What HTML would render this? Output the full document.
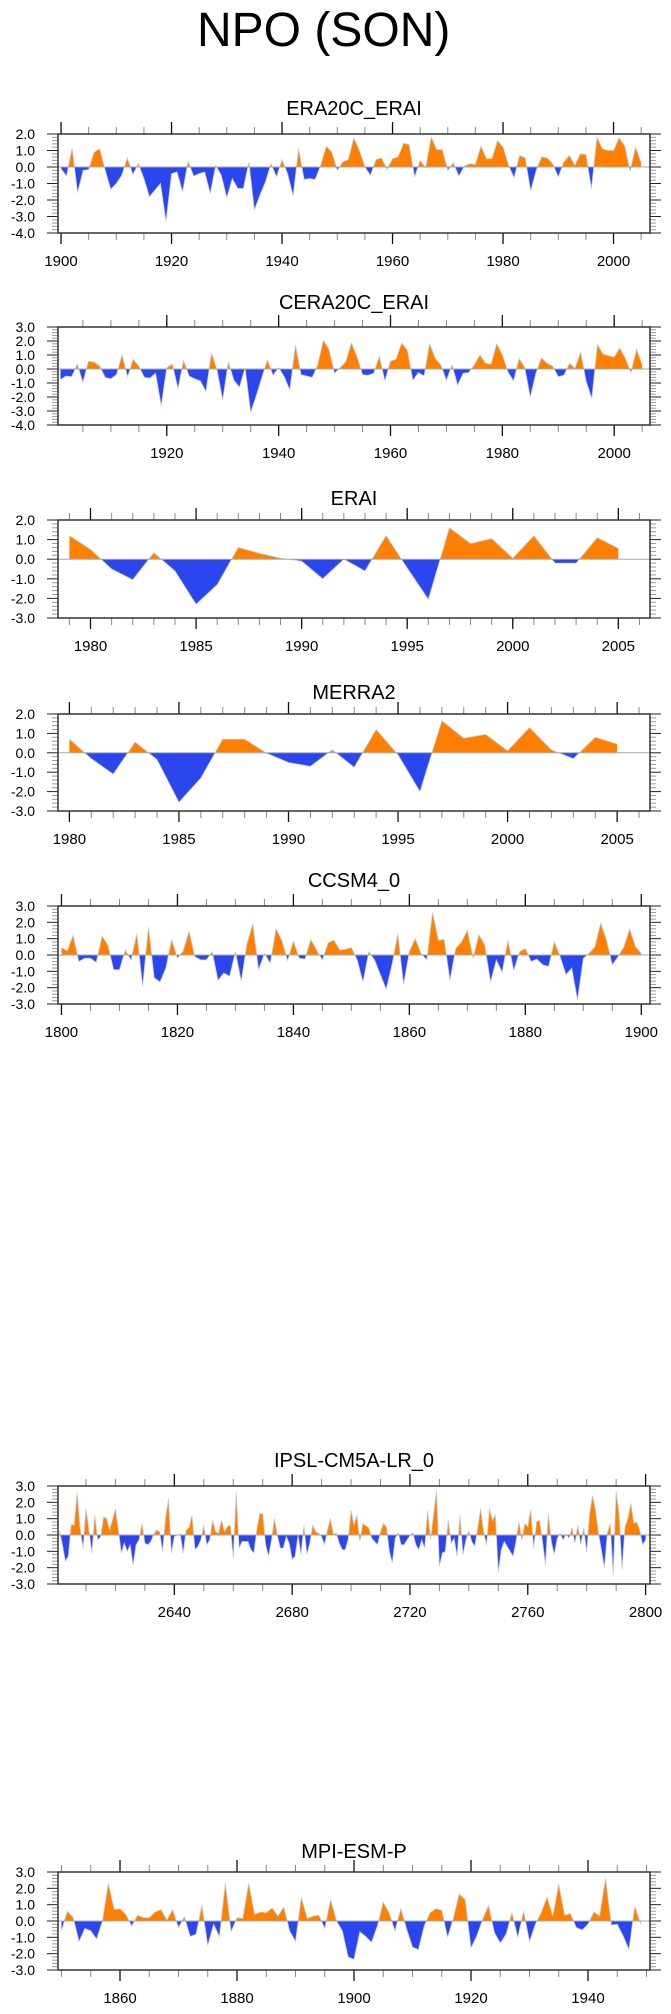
<!DOCTYPE html>
<html><head><meta charset="utf-8"><title>NPO (SON)</title>
<style>
html,body{margin:0;padding:0;background:#fff;}
svg{display:block;font-family:"Liberation Sans",Arial,sans-serif;}
</style></head>
<body>
<svg id="fig" width="671" height="2014" viewBox="0 0 671 2014" xmlns="http://www.w3.org/2000/svg">
<text x="197" y="46" font-size="48" fill="#000">NPO (SON)</text>
</svg>
<script>
// ---- data arrays (values per year) ----
const era20cStart = 1900;
const era20cValues = [-0.1,-0.55,1.15,-1.55,-0.2,-0.15,0.9,1.1,-0.2,-1.35,
-1.0,-0.5,0.55,-0.45,0.2,-0.7,-1.8,-1.4,-1.0,-3.3,
-0.4,-0.3,-1.5,0.35,-0.55,-0.4,-0.3,-1.6,0.1,-0.5,
-1.85,-0.7,-1.3,-1.3,0.3,-2.6,-1.7,-0.9,0.2,-0.6,
0.45,-0.4,-1.75,1.1,-0.75,-0.7,-0.75,0.1,1.25,0.9,
-0.2,0.3,0.45,1.75,1.0,0.0,-0.5,0.45,0.55,-0.15,
0.5,0.6,1.45,1.35,-0.6,0.4,-0.05,1.8,1.05,1.05,
-0.2,0.25,-0.55,0.05,0.2,0.15,1.25,0.5,0.5,1.6,
1.2,0.1,-0.65,0.7,0.55,-1.45,-0.2,0.6,0.55,0.2,
-0.6,0.3,0.7,0.1,0.8,0.75,-1.3,1.8,1.1,1.0,
1.0,1.75,1.3,-0.25,1.2,0.25];
const cera20cStart = 1901;
const cera20cValues = [-0.75,-0.5,-0.55,0.35,-0.95,0.55,0.5,0.2,-0.6,-0.7,
-0.4,1.0,-0.55,0.7,0.2,-0.6,-0.65,-0.3,-2.6,0.1,
0.35,-1.4,0.6,-0.5,-0.7,-0.85,-1.6,1.15,-0.1,-2.2,
0.5,-0.8,-1.3,0.1,-3.1,-1.9,-0.6,0.65,-0.45,0.1,
-0.55,-1.5,1.7,-0.4,-0.5,-0.6,0.3,2.05,1.4,-0.3,
0.1,0.5,1.85,0.9,-0.4,-0.45,-0.3,0.9,-0.85,0.55,
0.7,1.85,1.35,-0.8,-0.25,-0.5,1.8,0.75,0.3,-0.8,
0.3,-1.15,-0.3,-0.25,0.3,1.0,0.4,0.35,1.8,1.0,
-0.2,-0.85,0.75,0.1,-2.0,-0.3,0.8,0.4,0.2,-0.55,
-0.45,0.4,0.05,1.2,-0.9,-2.1,1.75,1.05,0.95,0.85,
1.5,0.75,-0.25,1.4,0.3];
const eraiStart = 1979;
const eraiValues = [1.2,0.5,-0.5,-1.05,0.33,-0.6,-2.3,-1.3,0.6,0.3,
0.05,-0.1,-1.0,0.0,-0.6,1.2,-0.45,-2.05,1.6,0.8,
1.05,0.05,1.2,-0.2,-0.2,1.1,0.55];
const merra2Start = 1980;
const merra2Values = [0.7,-0.3,-1.1,0.55,-0.35,-2.55,-1.3,0.7,0.7,-0.02,
-0.5,-0.7,0.15,-0.75,1.2,-0.1,-2.0,1.65,0.75,0.95,
0.1,1.3,0.15,-0.3,0.8,0.45];
const ccsm4Start = 1800;
const ccsm4Values = [0.45,0.25,1.2,-0.4,-0.2,-0.2,-0.45,1.15,0.6,-0.9,
-0.9,0.3,-0.3,1.3,-1.9,1.7,-1.4,-1.65,-0.8,0.95,
-0.2,0.25,1.45,-0.1,-0.3,-0.3,0.2,-1.55,-1.1,-1.3,
0.2,-1.6,0.7,1.9,-0.9,0.1,-0.5,1.6,0.9,-0.35,
0.85,-0.2,-0.25,0.95,0.3,-0.3,0.75,0.9,0.3,0.35,
0.45,-0.3,-1.65,0.2,-0.3,-1.2,-2.1,-0.6,1.3,-1.8,
0.2,1.0,0.1,-0.3,2.6,0.9,0.95,-1.55,0.4,0.8,
1.5,-0.2,1.25,0.6,-1.65,-0.3,-1.05,0.9,-0.95,0.2,
0.4,-0.4,-0.25,-0.6,-0.7,0.8,-0.1,-1.2,-0.8,-2.75,
-0.2,0.1,0.5,1.95,0.9,-0.6,-0.1,0.5,1.6,0.5,
0.1];
const ipslStart = 2601;
const ipslValues = [0.3,-0.6,-1.6,-1.3,0.65,0.6,2.6,0.4,-0.8,1.6,
0.3,-1.1,1.2,-0.3,-0.1,1.1,1.0,0.3,0.9,1.6,
0.3,-1.1,-0.5,-1.0,-0.6,-1.85,-0.6,-0.3,0.7,-0.5,
-0.6,-0.4,0.05,0.3,0.2,-1.0,1.0,2.2,-1.1,-0.1,
0.0,0.05,-1.1,0.3,0.45,1.2,-0.9,-0.7,-0.3,0.6,
-0.6,-0.3,0.9,0.2,0.1,0.9,0.2,0.5,0.6,-1.4,
2.6,-0.8,-0.4,-0.4,-0.4,-0.9,-1.1,0.3,1.3,1.3,
-0.6,-1.3,-0.3,1.0,-0.05,-0.8,-0.8,-0.1,-0.5,-1.5,
-1.3,0.0,-1.2,0.6,-1.2,-0.5,0.6,0.2,0.1,-0.1,
-0.6,0.3,1.0,0.05,0.1,-0.5,-0.9,-0.9,-0.3,1.5,
0.6,1.2,-0.4,0.7,0.55,0.45,-0.2,-0.4,-0.6,0.2,
0.7,0.5,-1.0,-1.7,-0.2,0.15,-0.6,-0.6,-0.3,-0.05,
0.15,-0.6,-0.9,-0.3,-0.8,1.5,-0.3,1.2,2.7,-1.9,
-1.1,-1.0,0.9,-0.5,-0.2,-1.3,1.2,-1.2,-0.3,0.25,
-0.4,-0.7,0.4,1.6,0.2,-0.6,1.6,0.9,1.2,-2.3,
-0.9,-0.4,-0.7,-1.0,-1.3,-0.4,0.8,-0.3,0.7,0.5,
1.55,-0.8,0.8,0.9,-0.4,-1.8,1.3,-0.4,-1.2,-0.2,
0.1,-0.3,0.05,-0.2,0.45,-0.5,0.6,-0.6,0.45,-1.05,
1.3,2.4,1.5,0.1,-0.9,-2.0,0.1,0.7,-2.4,2.65,
1.3,-2.1,0.5,1.0,1.95,0.7,0.8,0.3,-0.6,-0.3];
const mpiStart = 1850;
const mpiValues = [-0.6,0.6,0.2,-1.25,-0.45,-0.6,-1.1,0.0,2.3,0.7,
0.75,0.4,-0.3,0.35,0.2,0.2,0.55,0.7,0.05,0.7,
-0.4,0.25,-0.95,-0.8,0.95,-1.5,-0.2,-0.95,2.3,-0.65,
0.2,0.15,2.3,0.4,0.55,0.5,0.8,0.3,0.85,-0.6,
-1.25,1.45,0.15,0.3,0.35,-0.45,1.3,0.0,-0.6,-2.2,
-2.35,-0.65,-0.95,-1.3,-0.3,1.15,0.5,-0.6,0.75,-0.5,
-1.6,-1.75,-0.3,0.5,0.75,0.65,-1.0,0.2,1.65,1.3,
-1.65,-0.9,0.1,0.95,-0.7,-1.35,-0.8,0.5,-1.0,0.6,
-1.25,-0.2,0.5,1.45,0.3,2.25,0.35,0.45,-0.4,-0.55,
-0.2,0.55,0.3,2.6,-0.25,-0.2,-0.9,-1.75,0.9,-0.2];

const panelTitles = ["ERA20C_ERAI","CERA20C_ERAI","ERAI","MERRA2","CCSM4_0","IPSL-CM5A-LR_0","MPI-ESM-P"];

const panels = [
 {id:"era20c-erai", start:era20cStart, vals:era20cValues, top:134, bot:233, tb:115, x0:1899.45, x1:2006.6, y0:-4, y1:2, maj:[1900,2000,20], min:[1900,2005,5]},
 {id:"cera20c-erai", start:cera20cStart, vals:cera20cValues, top:327, bot:425, tb:309, x0:1900.55, x1:2006.4, y0:-4, y1:3, maj:[1920,2000,20], min:[1905,2005,5]},
 {id:"erai", start:eraiStart, vals:eraiValues, top:520, bot:618, tb:505, x0:1978.46, x1:2006.5, y0:-3, y1:2, maj:[1980,2005,5], min:[1979,2006,1]},
 {id:"merra2", start:merra2Start, vals:merra2Values, top:714, bot:811, tb:699, x0:1979.48, x1:2006.5, y0:-3, y1:2, maj:[1980,2005,5], min:[1980,2006,1]},
 {id:"ccsm4", start:ccsm4Start, vals:ccsm4Values, top:906, bot:1004, tb:887, x0:1799.4, x1:1901.5, y0:-3, y1:3, maj:[1800,1900,20], min:[1800,1900,5]},
 {id:"ipsl", start:ipslStart, vals:ipslValues, top:1486, bot:1584, tb:1467, x0:2600.5, x1:2801.5, y0:-3, y1:3, maj:[2640,2800,40], min:[2610,2800,10]},
 {id:"mpi", start:mpiStart, vals:mpiValues, top:1872, bot:1970, tb:1858, x0:1849.4, x1:1950.6, y0:-3, y1:3, maj:[1860,1940,20], min:[1850,1950,5]}
];

const NS = "http://www.w3.org/2000/svg";
const svg = document.getElementById("fig");
const L = 58, R = 650;
function mk(tag, attrs, parent){ const e=document.createElementNS(NS,tag); for(const k in attrs) e.setAttribute(k,attrs[k]); (parent||svg).appendChild(e); return e; }

panels.forEach((p, pi) => {
  const g = mk("g", {});
  
  
  const xs = v => L + (v - p.x0) / (p.x1 - p.x0) * (R - L);
  const ys = v => p.bot - (v - p.y0) / (p.y1 - p.y0) * (p.bot - p.top);
  const y0 = ys(0);
  // title
  const t = mk("text", {x:(L+R)/2, y:p.tb, "font-size":20, "text-anchor":"middle", fill:"#000"}, g);
  t.textContent = panelTitles[pi];
  
  
  // clip
  const cid = "c"+pi;
  const cpA = mk("clipPath", {id:cid+"a"}, g); mk("rect", {x:L, y:p.top, width:R-L, height:y0-p.top}, cpA);
  const cpB = mk("clipPath", {id:cid+"b"}, g); mk("rect", {x:L, y:y0, width:R-L, height:p.bot-y0}, cpB);
  let pts = p.vals.map((v,i)=> xs(p.start+i).toFixed(2)+","+ys(v).toFixed(2));
  const xa = xs(p.start).toFixed(2), xb = xs(p.start+p.vals.length-1).toFixed(2);
  const area = "M"+xa+","+y0+" L"+pts.join(" L")+" L"+xb+","+y0+" Z";
  const pos = mk("path", {d:area, fill:"#ff8000", "clip-path":"url(#"+cid+"a)"}, g);
  
  
  const neg = mk("path", {d:area, fill:"#2a46ee", "clip-path":"url(#"+cid+"b)"}, g);
  
  
  const ln = mk("polyline", {points:pts.join(" "), fill:"none", stroke:"#c8c8c8", "stroke-width":0.8}, g);
  
  
  const zl = mk("line", {x1:L, x2:R, y1:y0, y2:y0, stroke:"#aaa", "stroke-width":1}, g);
  
  
  // y ticks
  for (let k = Math.round(p.y0*5); k <= Math.round(p.y1*5); k++) {
    const v = k/5, yy = ys(v), major = (k % 5 === 0);
    const len = major ? 11 : 6, col = major ? "#222" : "#999";
    mk("line", {x1:L-len, x2:L, y1:yy, y2:yy, stroke:col, "stroke-width":1}, g);
    mk("line", {x1:R, x2:R+len, y1:yy, y2:yy, stroke:col, "stroke-width":1}, g);
    if (major) {
      const tl = mk("text", {x:35, y:yy+5, "font-size":14, "text-anchor":"end", fill:"#000"}, g);
      tl.textContent = v.toFixed(1);
      
      
    }
  }
  // x minor ticks
  for (let yr = p.min[0]; yr <= p.min[1]; yr += p.min[2]) {
    const xx = xs(yr); if (xx < L-0.5 || xx > R+0.5) continue;
    mk("line", {x1:xx, x2:xx, y1:p.bot, y2:p.bot+7, stroke:"#888", "stroke-width":1}, g);
    mk("line", {x1:xx, x2:xx, y1:p.top-7, y2:p.top, stroke:"#888", "stroke-width":1}, g);
  }
  for (let yr = p.maj[0]; yr <= p.maj[1]; yr += p.maj[2]) {
    const xx = xs(yr);
    mk("line", {x1:xx, x2:xx, y1:p.bot, y2:p.bot+11, stroke:"#111", "stroke-width":1.3}, g);
    mk("line", {x1:xx, x2:xx, y1:p.top-12, y2:p.top, stroke:"#111", "stroke-width":1.3}, g);
    const xl = mk("text", {x:xx, y:p.bot+33, "font-size":15, "text-anchor":"middle", fill:"#000"}, g);
    xl.textContent = String(yr);
    
    
  }
  const fr = mk("rect", {x:L, y:p.top, width:R-L, height:p.bot-p.top, fill:"none", stroke:"#333", "stroke-width":1.5}, g);
  
  
});
</script>
</body></html>
